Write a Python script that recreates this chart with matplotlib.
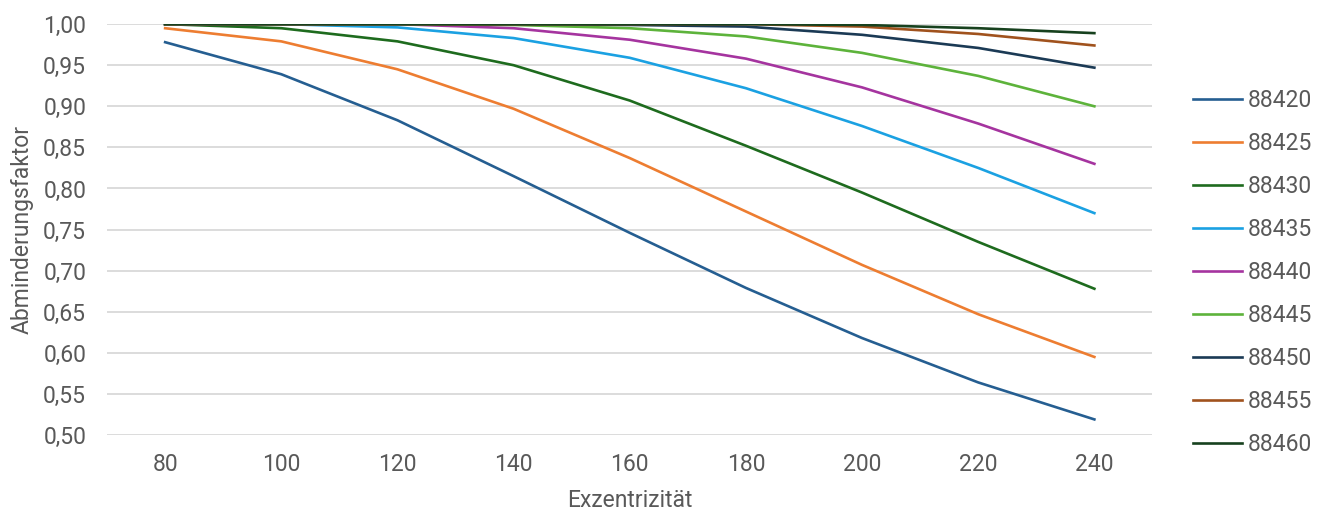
import matplotlib.pyplot as plt
from matplotlib.ticker import FuncFormatter, MultipleLocator

plt.rcParams['font.family'] = ['Roboto', 'DejaVu Sans']

exzentrizitaet = [80, 100, 120, 140, 160, 180, 200, 220, 240]
s88420 = [0.978, 0.939, 0.883, 0.815, 0.746, 0.679, 0.618, 0.564, 0.519]
s88425 = [0.995, 0.979, 0.945, 0.897, 0.837, 0.772, 0.707, 0.647, 0.595]
s88430 = [1.000, 0.995, 0.979, 0.950, 0.907, 0.852, 0.795, 0.735, 0.678]
s88435 = [1.000, 1.000, 0.996, 0.983, 0.959, 0.922, 0.876, 0.825, 0.770]
s88440 = [1.000, 1.000, 1.000, 0.995, 0.981, 0.958, 0.923, 0.879, 0.830]
s88445 = [1.000, 1.000, 1.000, 0.999, 0.995, 0.985, 0.965, 0.937, 0.900]
s88450 = [1.000, 1.000, 1.000, 1.000, 0.999, 0.997, 0.987, 0.971, 0.947]
s88455 = [1.000, 1.000, 1.000, 1.000, 1.000, 1.000, 0.997, 0.988, 0.974]
s88460 = [1.000, 1.000, 1.000, 1.000, 1.000, 1.000, 0.999, 0.995, 0.989]

namen = ['88420', '88425', '88430', '88435', '88440', '88445', '88450', '88455', '88460']
reihen = [s88420, s88425, s88430, s88435, s88440, s88445, s88450, s88455, s88460]
farben = ['#255e91', '#ed7d31', '#1e6b1e', '#1ba1e2', '#a5349f', '#5db33b',
          '#1b3a55', '#a0521d', '#17411e']

textfarbe = '#595959'
fs = 16.5

fig = plt.figure(figsize=(13.3, 5.13), dpi=100)
ax = fig.add_axes([0.0805, 0.152, 0.786, 0.801])

for name, werte, farbe in zip(namen, reihen, farben):
    ax.plot(exzentrizitaet, werte, color=farbe, linewidth=1.9, label=name)

ax.set_xlim(70, 250)
ax.set_ylim(0.5, 1.0)
ax.set_xticks(exzentrizitaet)
ax.yaxis.set_major_locator(MultipleLocator(0.05))
ax.yaxis.set_major_formatter(FuncFormatter(lambda v, p: f'{v:.2f}'.replace('.', ',')))

ax.grid(axis='y', color='#d9d9d9', linewidth=1.3)
ax.set_axisbelow(True)
for sp in ax.spines.values():
    sp.set_visible(False)
ax.tick_params(axis='both', length=0, labelsize=fs, labelcolor=textfarbe)
ax.tick_params(axis='y', pad=15)
ax.tick_params(axis='x', pad=13)

ax.set_xlabel('Exzentrizität', fontsize=fs, color=textfarbe, labelpad=9)
ax.set_ylabel('Abminderungsfaktor', fontsize=fs, color=textfarbe, labelpad=7)

leg = fig.legend(loc='center left', bbox_to_anchor=(0.897, 0.469), frameon=False,
                 fontsize=fs, handlelength=2.15, handletextpad=0.25,
                 labelspacing=0.87, borderpad=0, borderaxespad=0)
for t in leg.get_texts():
    t.set_color(textfarbe)

fig.savefig('out.png', dpi=100)
